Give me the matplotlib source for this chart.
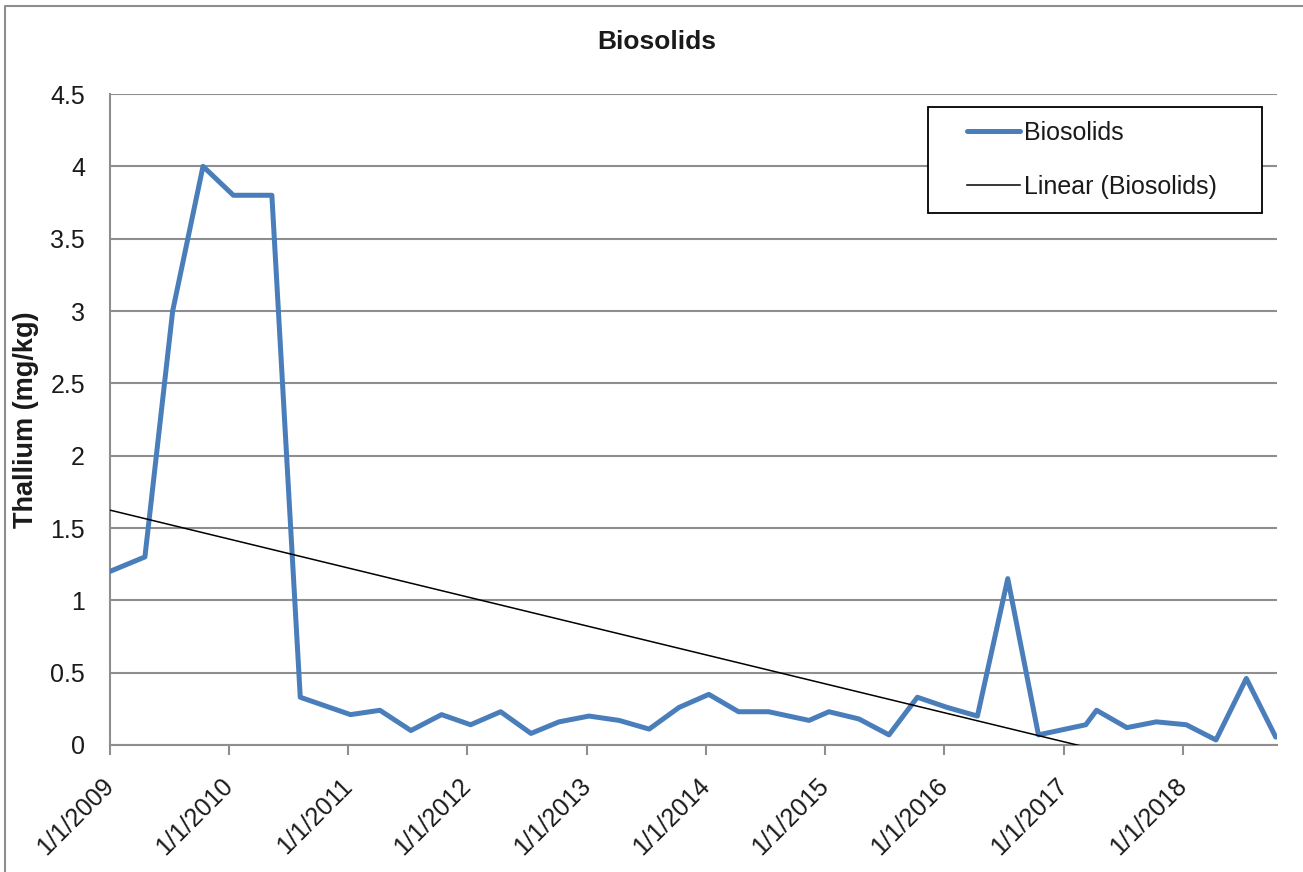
import matplotlib
matplotlib.use('Agg')

import numpy as np
import pandas as pd
import matplotlib.pyplot as plt
import matplotlib.dates as mdates
import matplotlib.patches as mpatches
import matplotlib.lines as mlines

plt.rcParams['font.family'] = ['Liberation Sans', 'DejaVu Sans']

# Sample dates and thallium values (mg/kg)
dates = ['2009-01-01', '2009-04-18', '2009-07-12', '2009-10-13', '2010-01-14',
         '2010-05-12', '2010-08-07', '2011-01-08', '2011-04-08', '2011-07-12',
         '2011-10-14', '2012-01-11', '2012-04-12', '2012-07-14', '2012-10-08',
         '2013-01-08', '2013-04-10', '2013-07-11', '2013-10-11', '2014-01-10',
         '2014-04-11', '2014-07-12', '2014-11-13', '2015-01-13', '2015-04-15',
         '2015-07-16', '2015-10-11', '2016-01-10', '2016-04-12', '2016-07-14',
         '2016-10-16', '2017-03-10', '2017-04-12', '2017-07-14', '2017-10-12',
         '2018-01-12', '2018-04-13', '2018-07-15', '2018-10-13']
thallium = [1.2, 1.3, 3.0, 4.0, 3.8,
            3.8, 0.33, 0.21, 0.24, 0.10,
            0.21, 0.14, 0.23, 0.08, 0.16,
            0.20, 0.17, 0.11, 0.26, 0.35,
            0.23, 0.23, 0.17, 0.23, 0.18,
            0.07, 0.33, 0.26, 0.20, 1.15,
            0.07, 0.14, 0.24, 0.12, 0.16,
            0.14, 0.035, 0.46, 0.055]
tick_years = list(range(2009, 2019))

x = pd.to_datetime(dates)
xn = mdates.date2num(x)
y = np.array(thallium)

# Linear trendline (least squares, like Excel)
slope, intercept = np.polyfit(xn, y, 1)
trend_x = np.array([xn[0], xn[-1]])
trend_y = slope * trend_x + intercept

W, H = 1303, 872
fig = plt.figure(figsize=(W / 100, H / 100), dpi=100)
ax = fig.add_axes([110 / W, 1 - 745 / H, (1277 - 110) / W, (745 - 94) / H])

grid_c = '#8e8e8e'
blue = '#4a7ebb'
ax.plot(xn, y, color=blue, linewidth=3.6, solid_joinstyle='round',
        solid_capstyle='round', zorder=3)
ax.plot(trend_x, trend_y, color='black', linewidth=1.1, zorder=4)

ax.set_ylim(0, 4.5)
ax.set_yticks(np.arange(0, 4.51, 0.5))
ax.set_yticklabels(['0', '0.5', '1', '1.5', '2', '2.5', '3', '3.5', '4', '4.5'])
ax.set_xlim(xn[0], xn[-1] + 4)

ticks = [mdates.date2num(pd.Timestamp(yr, 1, 1)) for yr in tick_years]
ax.set_xticks(ticks)
ax.set_xticklabels(['1/1/%d' % yr for yr in tick_years], rotation=45,
                   ha='right', va='center', rotation_mode='anchor')

ax.yaxis.grid(True, color=grid_c, linewidth=1.5)
ax.set_axisbelow(True)
for s in ['top', 'right']:
    ax.spines[s].set_visible(False)
for s in ['left', 'bottom']:
    ax.spines[s].set_color(grid_c)
    ax.spines[s].set_linewidth(1.5)
ax.tick_params(axis='y', length=0, labelsize=18, pad=18, labelcolor='#1a1a1a')
ax.tick_params(axis='x', length=7, width=1.5, color=grid_c, labelsize=18,
               pad=20, labelcolor='#1a1a1a')

# title is centred on the whole chart area, as in Excel
fig.text(657 / W, 1 - 42 / H, 'Biosolids', fontsize=19, fontweight='bold',
         ha='center', va='center', color='#1a1a1a')
ax.set_ylabel('Thallium (mg/kg)', fontsize=19.5, fontweight='bold', labelpad=8,
              color='#1a1a1a')

# legend (Excel style box with wide side padding)
h_data = mlines.Line2D([], [], color=blue, linewidth=3.6, solid_capstyle='round')
h_trend = mlines.Line2D([], [], color='black', linewidth=1.1)
leg = fig.legend([h_data, h_trend], ['Biosolids', 'Linear (Biosolids)'],
                 loc='center left', bbox_to_anchor=(967 / W, 1 - 160 / H),
                 fontsize=18, frameon=False, borderpad=0, labelspacing=1.2,
                 handlelength=2.1, handletextpad=0.2, borderaxespad=0)
for t in leg.get_texts():
    t.set_color('#1a1a1a')
fig.patches.append(mpatches.Rectangle((928 / W, 1 - 213 / H), 334 / W, 106 / H,
                                      transform=fig.transFigure, fill=True,
                                      facecolor='white', edgecolor='black',
                                      linewidth=1.3, zorder=5))
leg.set_zorder(6)

# outer chart border (left and top edges visible)
fig.add_artist(mlines.Line2D([5 / W, 5 / W, 1], [0, 1 - 6 / H, 1 - 6 / H],
                             transform=fig.transFigure, color=grid_c, linewidth=1.5))

fig.savefig('out.png', dpi=100)
